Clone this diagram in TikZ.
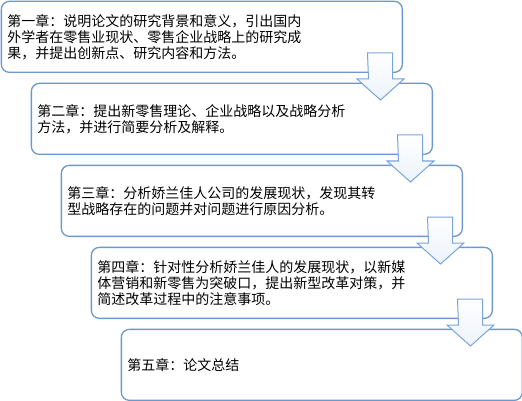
\documentclass[tikz,border=0pt]{standalone}
\usepackage{fontspec}
\newfontfamily\cjk{Noto Sans CJK SC}
\usetikzlibrary{calc}
\definecolor{boxblue}{RGB}{108,152,208}
\definecolor{arrblue}{RGB}{122,164,218}
\definecolor{arrfill}{RGB}{236,243,251}
\tikzset{
  chapbox/.style={draw=boxblue, line width=1.3pt, rounded corners=8pt, fill=white,
    anchor=north west, minimum width=401pt, minimum height=71pt, text width=389pt,
    inner xsep=6pt, align=left, font=\cjk\fontsize{14pt}{16pt}\selectfont},
  blockarrow/.style={draw=arrblue, line width=1pt, top color=white, bottom color=arrfill, line join=miter},
}
\begin{document}
\begin{tikzpicture}[x=1pt,y=-1pt]
\useasboundingbox (0,0) rectangle (522,401);
\node[chapbox] (c1) at (0.7,0.7) {第一章：说明论文的研究背景和意义，引出国内\\外学者在零售业现状、零售企业战略上的研究成\\果，并提出创新点、研究内容和方法。};
\node[chapbox] (c2) at (30.7,82.7) {第二章：提出新零售理论、企业战略以及战略分析\\方法，并进行简要分析及解释。};
\node[chapbox] (c3) at (60.7,164.7) {第三章：分析娇兰佳人公司的发展现状，发现其转\\型战略存在的问题并对问题进行原因分析。};
\node[chapbox] (c4) at (90.7,246.7) {第四章：针对性分析娇兰佳人的发展现状，以新媒\\体营销和新零售为突破口，提出新型改革对策，并\\简述改革过程中的注意事项。};
\node[chapbox] (c5) at (120.7,328.7) {第五章：论文总结};
\foreach \s in {c1,c2,c3,c4}{
  \draw[blockarrow] ($(\s.south east)+(-35.5,-20)$) -- ++(25,0) -- ++(0,26) -- ++(11.5,0)
    -- ++(-23.5,21) -- ++(-23.5,-21) -- ++(11.5,0) -- cycle;
}
\end{tikzpicture}
\end{document}
